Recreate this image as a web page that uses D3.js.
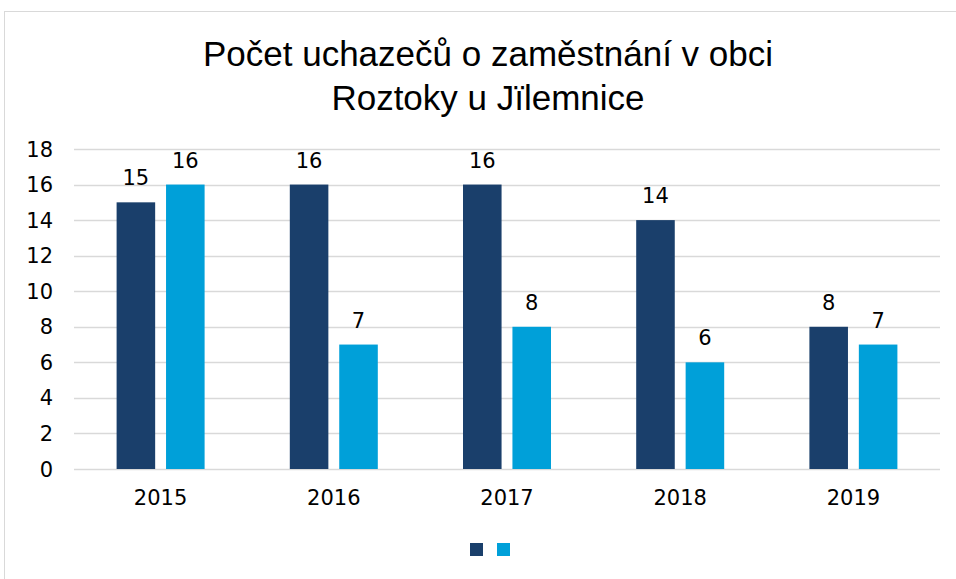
<!DOCTYPE html>
<html><head><meta charset="utf-8">
<script src="https://cdn.jsdelivr.net/npm/d3@7"></script>
<style>body{margin:0;background:#fff}svg{display:block}</style>
</head><body>
<script>
const titleLines = ["Počet uchazečů o zaměstnání v obci", "Roztoky u Jïlemnice"];
const categories = ["2015", "2016", "2017", "2018", "2019"];
const seriesA = [15, 16, 16, 14, 8];
const seriesB = [16, 7, 8, 6, 7];
const yTicks = [0, 2, 4, 6, 8, 10, 12, 14, 16, 18];
const colors = ["#1a3f6b", "#00a0d9"];

const W = 956, H = 579;
const svg = d3.select("body").append("svg").attr("width", W).attr("height", H);
svg.append("rect").attr("x", 4.5).attr("y", 11.5).attr("width", W).attr("height", H)
  .attr("fill", "#fff").attr("stroke", "#d9d9d9");

const numFont = "'DejaVu Sans', 'Liberation Sans', sans-serif";
const plot = {l: 74, r: 940, t: 149, b: 469};
const x = d3.scaleBand().domain(categories).range([plot.l, plot.r]);
const y = d3.scaleLinear().domain([0, 18]).range([plot.b, plot.t]);
const inner = d3.scaleBand().domain([0, 1]).range([-44, 44]).paddingInner(0.22);

svg.append("g").selectAll("line").data(yTicks).join("line")
  .attr("x1", plot.l).attr("x2", plot.r)
  .attr("y1", d => Math.round(y(d)) + 0.5).attr("y2", d => Math.round(y(d)) + 0.5)
  .attr("stroke", "#d9d9d9").attr("stroke-width", 1.3);

svg.append("g").selectAll("text").data(yTicks).join("text")
  .attr("x", 53).attr("y", d => y(d)).attr("dy", "0.36em")
  .attr("text-anchor", "end").attr("font-family", numFont).attr("font-size", 21)
  .attr("fill", "#000").text(d => d);

const series = [seriesA, seriesB];
series.forEach((vals, si) => {
  const g = svg.append("g");
  g.selectAll("rect").data(vals).join("rect")
    .attr("x", (d, i) => x(categories[i]) + x.bandwidth() / 2 + inner(si))
    .attr("width", inner.bandwidth())
    .attr("y", d => y(d)).attr("height", d => y(0) - y(d))
    .attr("fill", colors[si]);
  g.selectAll("text").data(vals).join("text")
    .attr("x", (d, i) => x(categories[i]) + x.bandwidth() / 2 + inner(si) + inner.bandwidth() / 2)
    .attr("y", d => y(d) - 17)
    .attr("text-anchor", "middle").attr("font-family", numFont).attr("font-size", 21)
    .attr("fill", "#000").text(d => d);
});

svg.append("g").selectAll("text").data(categories).join("text")
  .attr("x", d => x(d) + x.bandwidth() / 2).attr("y", 505)
  .attr("text-anchor", "middle").attr("font-family", numFont).attr("font-size", 21)
  .attr("fill", "#000").text(d => d);

svg.append("g").selectAll("text").data(titleLines).join("text")
  .attr("x", 488).attr("y", (d, i) => 66 + i * 44)
  .attr("text-anchor", "middle").attr("font-family", "'Liberation Sans Narrow', 'Liberation Sans', sans-serif")
  .attr("font-size", 35).attr("fill", "#000").text(d => d);

svg.append("g").selectAll("rect").data(colors).join("rect")
  .attr("x", (d, i) => 470 + i * 27).attr("y", 543).attr("width", 13).attr("height", 13)
  .attr("fill", d => d);
</script>
</body></html>
